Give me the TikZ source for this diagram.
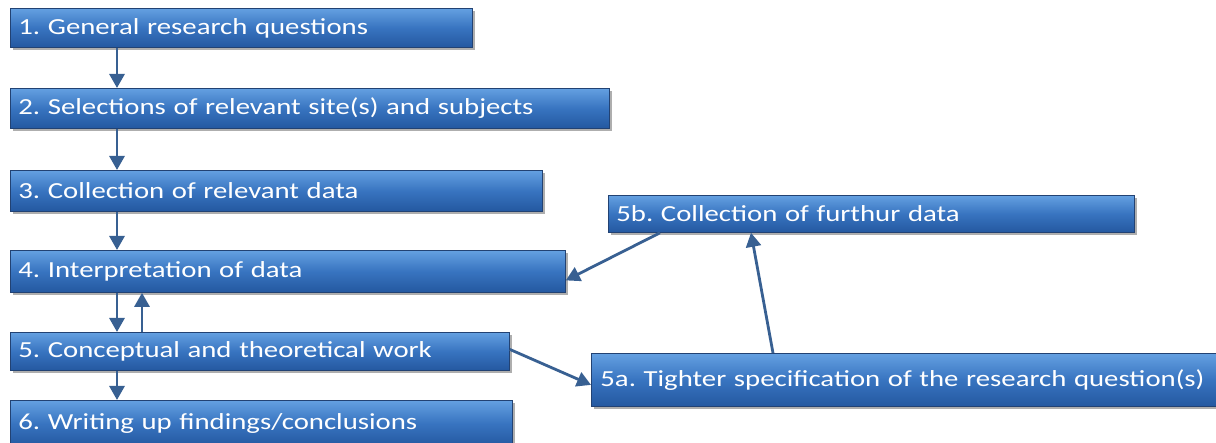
\documentclass[tikz,border=0pt]{standalone}
\usepackage{fontspec}
\newfontfamily\boxfont[FakeStretch=1.25]{Carlito}
\usetikzlibrary{calc,shadows,arrows.meta}
\definecolor{boxtop}{RGB}{100,160,225}
\definecolor{boxmid}{RGB}{56,116,192}
\definecolor{boxbot}{RGB}{36,88,160}
\definecolor{boxedge}{RGB}{34,66,115}
\definecolor{arrcol}{RGB}{56,96,146}
\tikzset{
  stepbox/.style={draw=boxedge, line width=0.8pt, top color=boxtop, bottom color=boxbot, middle color=boxmid,
    anchor=north west, align=left, inner xsep=8pt, inner ysep=0pt,
    font=\boxfont\fontsize{23}{26}\selectfont\frenchspacing, text=white,
    drop shadow={shadow xshift=2.5pt, shadow yshift=-3pt, opacity=0.45, fill=black!70}},
  arr/.style={draw=arrcol, line width=2.8pt, -{Triangle[length=14pt,width=15pt]}}
}
\begin{document}
\begin{tikzpicture}[x=1pt,y=-1pt]
\useasboundingbox (0,0) rectangle (1216,443);
\node[stepbox, text width=446pt, minimum height=39pt] (b1) at (10,8) {1. General research questions};
\node[stepbox, text width=583pt, minimum height=40pt] (b2) at (10,88) {2. Selections of relevant site(s) and subjects};
\node[stepbox, text width=516pt, minimum height=41pt] (b3) at (10,170) {3. Collection of relevant data};
\node[stepbox, text width=539pt, minimum height=42pt] (b4) at (10,250) {4. Interpretation of data};
\node[stepbox, text width=483pt, minimum height=38pt] (b5) at (10,332) {5. Conceptual and theoretical work};
\node[stepbox, text width=486pt, minimum height=46pt] (b6) at (10,400) {6. Writing up findings/conclusions};
\node[stepbox, text width=510pt, minimum height=37pt] (b5b) at (608,195) {5b. Collection of furthur data};
\node[stepbox, text width=607pt, minimum height=53pt, inner xsep=9pt] (b5a) at (591,353) {\mbox{5a. Tighter specification of the research question(s)}};
\coordinate (xa) at (117,0);
\coordinate (xb) at (142,0);
\draw[arr] (b1.south -| xa) -- (b2.north -| xa);
\draw[arr] (b2.south -| xa) -- (b3.north -| xa);
\draw[arr] (b3.south -| xa) -- (b4.north -| xa);
\draw[arr] (b4.south -| xa) -- (b5.north -| xa);
\draw[arr] (b5.north -| xb) -- (b4.south -| xb);
\draw[arr] (b5.south -| xa) -- (b6.north -| xa);
\draw[arr] ($(b5.east)+(0,-2)$) -- ($(b5a.west)+(0,5)$);
\draw[arr] ($(b5b.south west)+(52,0)$) -- ($(b4.east)+(0,9)$);
\draw[arr] ($(b5a.north west)+(182,0)$) -- ($(b5b.south west)+(143,0)$);
\end{tikzpicture}
\end{document}
